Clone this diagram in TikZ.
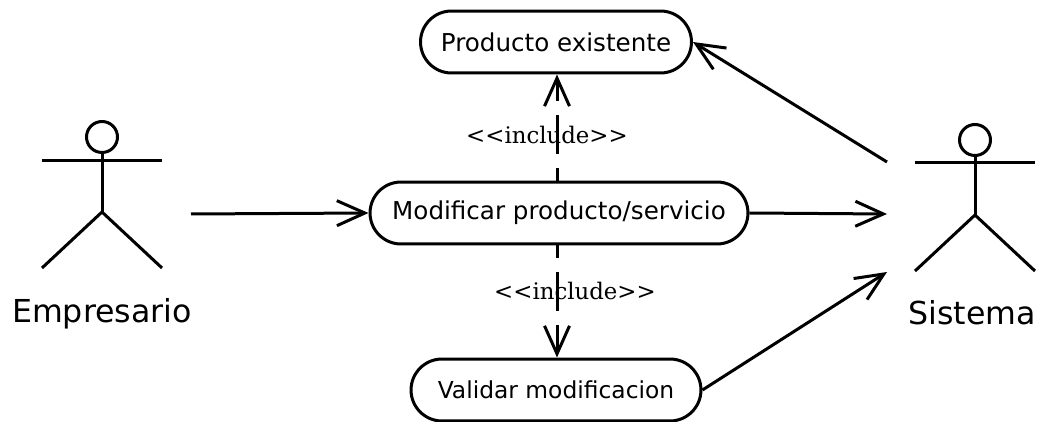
\documentclass[tikz,border=0pt]{standalone}
\usepackage{fontspec}
\setmainfont{DejaVu Sans}
\newfontfamily\stereofont{DejaVu Serif}
\usetikzlibrary{arrows.meta,%
                shapes.misc}

\begin{document}
\begin{tikzpicture}
  [x=.02cm,y=-.02cm,line width=.06cm,>={Straight Barb[length=.56cm,width=.5cm]},
   usecase/.style={draw,rounded rectangle,minimum height=1.24cm,inner sep=0pt,font=\fontsize{14}{16}\selectfont},
   head/.style={draw,circle,minimum size=.62cm,inner sep=0pt},
   actorname/.style={font=\fontsize{18}{20}\selectfont},
   stereo/.style={font=\stereofont\fontsize{13}{15}\selectfont},
   include/.style={->,dash pattern=on .78cm off .28cm,dash phase=.52cm}]
  \useasboundingbox (0,0) rectangle (1039,422);
  % use cases
  \node[usecase,minimum width=5.42cm] (existente) at (556,42)  {Producto existente};
  \node[usecase,minimum width=7.56cm] (modificar) at (559,213) {Modificar producto/servicio};
  \node[usecase,minimum width=5.8cm,font=\fontsize{13.3}{16}\selectfont] (validar) at (556,390) {Validar modificacion};
  % Empresario
  \node[head] (headE) at (102,137) {};
  \coordinate (hipE) at (102,212);
  \coordinate (armEl) at (42,161);
  \coordinate (armEr) at (162,161);
  \coordinate (legEl) at (42,268);
  \coordinate (legEr) at (162,268);
  \coordinate (outE) at (191,214);
  \node[actorname] (empresario) at (102,314) {Empresario};
  % Sistema
  \node[head] (headS) at (975,140) {};
  \coordinate (hipS) at (975,215);
  \coordinate (armSl) at (915,163);
  \coordinate (armSr) at (1035,163);
  \coordinate (legSl) at (915,271);
  \coordinate (legSr) at (1035,271);
  \coordinate (inS) at (887,214);
  \coordinate (inSup) at (887,162);
  \coordinate (inSdown) at (887,272);
  \node[actorname] (sistema) at (972,313) {Sistema};
  \foreach \who in {E,S} {
    \draw (head\who) -- (hip\who);
    \draw (arm\who l) -- (arm\who r);
    \draw (leg\who l) -- (hip\who) -- (leg\who r);
  }
  % connectors
  \draw[->] (outE) -- (modificar.west);
  \draw[->] (modificar.east) -- (inS);
  \draw[->] (inSup) -- (existente.east);
  \draw[->] (validar.east) -- (inSdown);
  \draw[include] (modificar.north -| 557,0) -- (557,76 |- existente.south);
  \draw[include] (modificar.south -| 557,0) -- (557,0 |- validar.north);
  \node[stereo] (incUp) at (547,135) {<<include>>};
  \node[stereo] (incDown) at (575,291) {<<include>>};
\end{tikzpicture}
\end{document}
